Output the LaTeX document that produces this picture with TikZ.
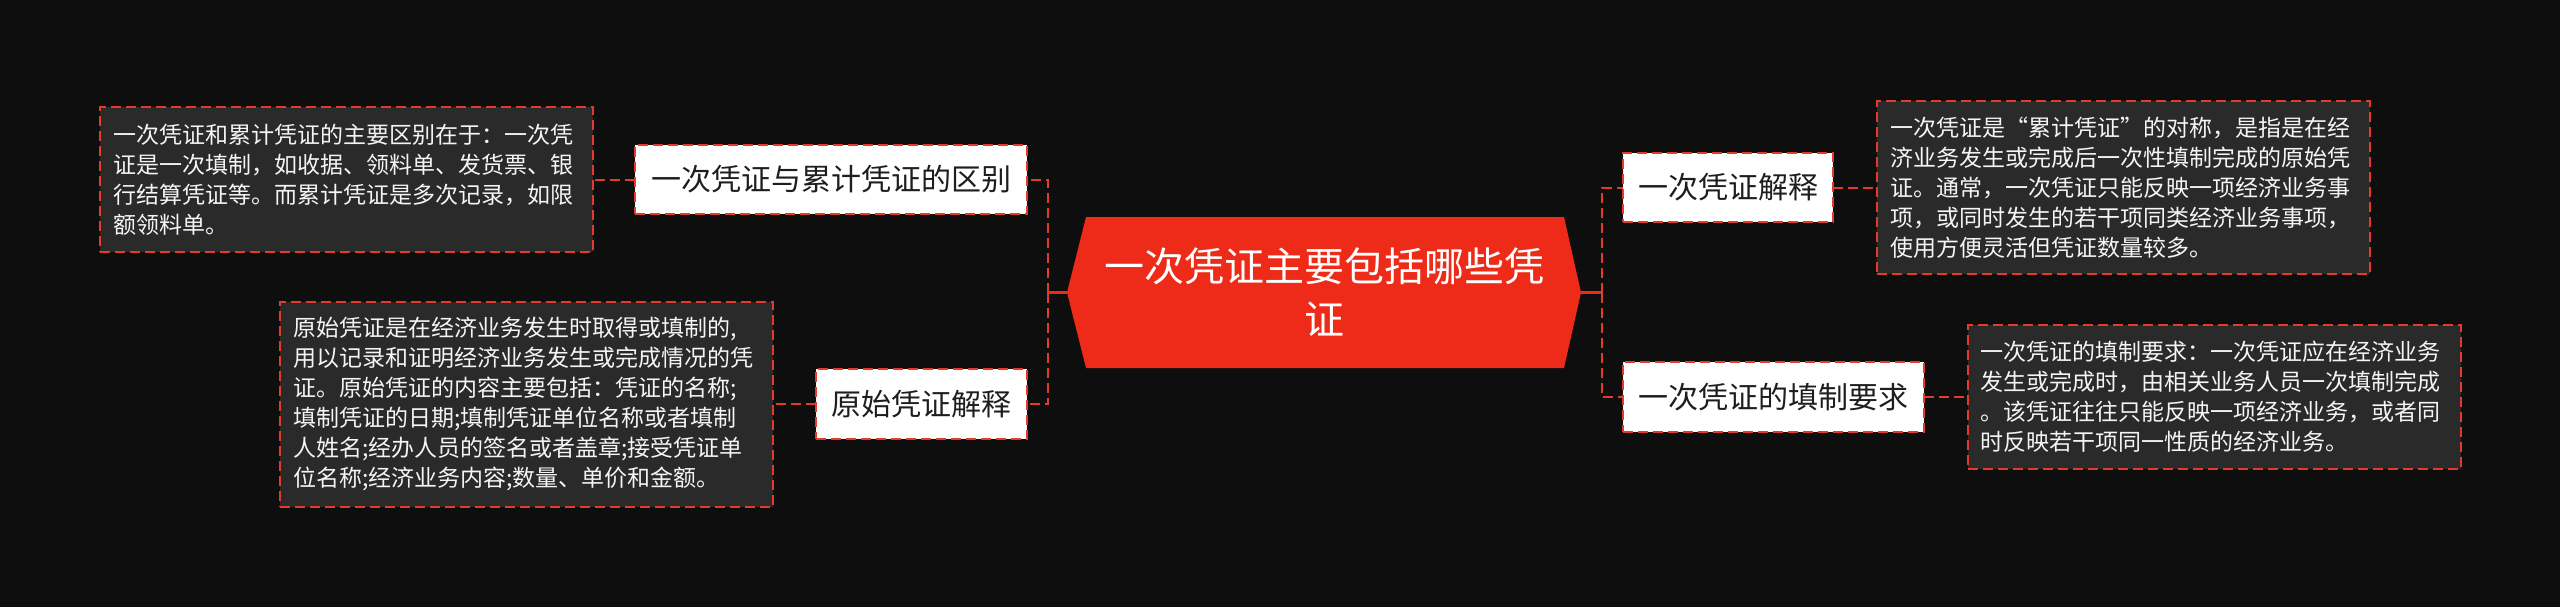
\documentclass[tikz,border=0pt]{standalone}
\usepackage{fontspec}
\newfontfamily\cjk{Noto Sans CJK SC}
\usetikzlibrary{calc,backgrounds}
\definecolor{bgcol}{HTML}{0E0E0E}
\definecolor{boxfill}{HTML}{2A2A2A}
\definecolor{mainred}{HTML}{EE2A18}
\definecolor{dashred}{HTML}{E23B2C}
\definecolor{txtlight}{HTML}{F5F5F5}
\definecolor{txtdark}{HTML}{1E1E1E}
\begin{document}
\begin{tikzpicture}[x=1pt,y=-1pt,
 dashline/.style={draw=dashred,line width=2pt,dash pattern=on 10pt off 5pt},
 infobox/.style={dashline,fill=boxfill,text=txtlight,font=\cjk\fontsize{23}{30}\selectfont,align=left,text width=467pt,minimum width=493pt,inner xsep=13pt,inner ysep=0pt,outer sep=0pt,anchor=center},
 branch/.style={dashline,fill=white,text=txtdark,font=\cjk\fontsize{30}{36}\selectfont,inner xsep=0pt,inner ysep=0pt,outer sep=0pt,minimum height=69pt},
 link/.style={dashline},
 stub/.style={draw=mainred,line width=2.5pt}]
\begin{scope}[on background layer]
\fill[bgcol] (0,0) rectangle (2560,607);
\end{scope}
\useasboundingbox (0,0) rectangle (2560,607);

% central node
\node[minimum width=514pt,minimum height=151pt,inner sep=0pt,outer sep=0pt,text=white,align=center,font=\cjk\fontsize{40}{53}\selectfont] (c) at (1324,292.5) {一次凭证主要包括哪些凭\\证};
\begin{scope}[on background layer]
\fill[mainred] (c.west) -- ($(c.north west)+(19,0)$) -- ($(c.north east)+(-17,0)$) -- (c.east) -- ($(c.south east)+(-17,0)$) -- ($(c.south west)+(19,0)$) -- cycle;
\end{scope}

% branches
\node[branch,minimum width=392pt] (b1) at (831,179.5) {一次凭证与累计凭证的区别};
\node[branch,minimum width=211pt,minimum height=70pt] (b2) at (921.5,404) {原始凭证解释};
\node[branch,minimum width=210pt] (b3) at (1728,187.5) {一次凭证解释};
\node[branch,minimum width=301pt,minimum height=70pt] (b4) at (1773.5,397) {一次凭证的填制要求};

% info boxes
\node[infobox,minimum height=145pt] (lt1) at (346.5,179.5) {一次凭证和累计凭证的主要区别在于：一次凭\\证是一次填制，如收据、领料单、发货票、银\\行结算凭证等。而累计凭证是多次记录，如限\\额领料单。};
\node[infobox,minimum height=205pt] (lt2) at (526.5,404) {原始凭证是在经济业务发生时取得或填制的,\\用以记录和证明经济业务发生或完成情况的凭\\证。原始凭证的内容主要包括：凭证的名称;\\填制凭证的日期;填制凭证单位名称或者填制\\人姓名;经办人员的签名或者盖章;接受凭证单\\位名称;经济业务内容;数量、单价和金额。};
\node[infobox,minimum height=173pt] (rt1) at (2123.5,187.5) {一次凭证是“累计凭证”的对称，是指是在经\\济业务发生或完成后一次性填制完成的原始凭\\证。通常，一次凭证只能反映一项经济业务事\\项，或同时发生的若干项同类经济业务事项，\\使用方便灵活但凭证数量较多。};
\node[infobox,minimum height=144pt] (rt2) at (2214,397) {一次凭证的填制要求：一次凭证应在经济业务\\发生或完成时，由相关业务人员一次填制完成\\。该凭证往往只能反映一项经济业务，或者同\\时反映若干项同一性质的经济业务。};

% connectors
\coordinate (tl) at (1048,292.5);
\coordinate (tr) at (1602,292.5);
\draw[stub] (c.west) -- (tl);
\draw[stub] (c.east) -- (tr);
\draw[link] (tl) |- (b1.east);
\draw[link] (tl) |- (b2.east);
\draw[link] (tr) |- (b3.west);
\draw[link] (tr) |- (b4.west);
\draw[link] (b1.west) -- (lt1.east);
\draw[link] (b2.west) -- (lt2.east);
\draw[link] (b3.east) -- (rt1.west);
\draw[link] (b4.east) -- (rt2.west);
\end{tikzpicture}
\end{document}
